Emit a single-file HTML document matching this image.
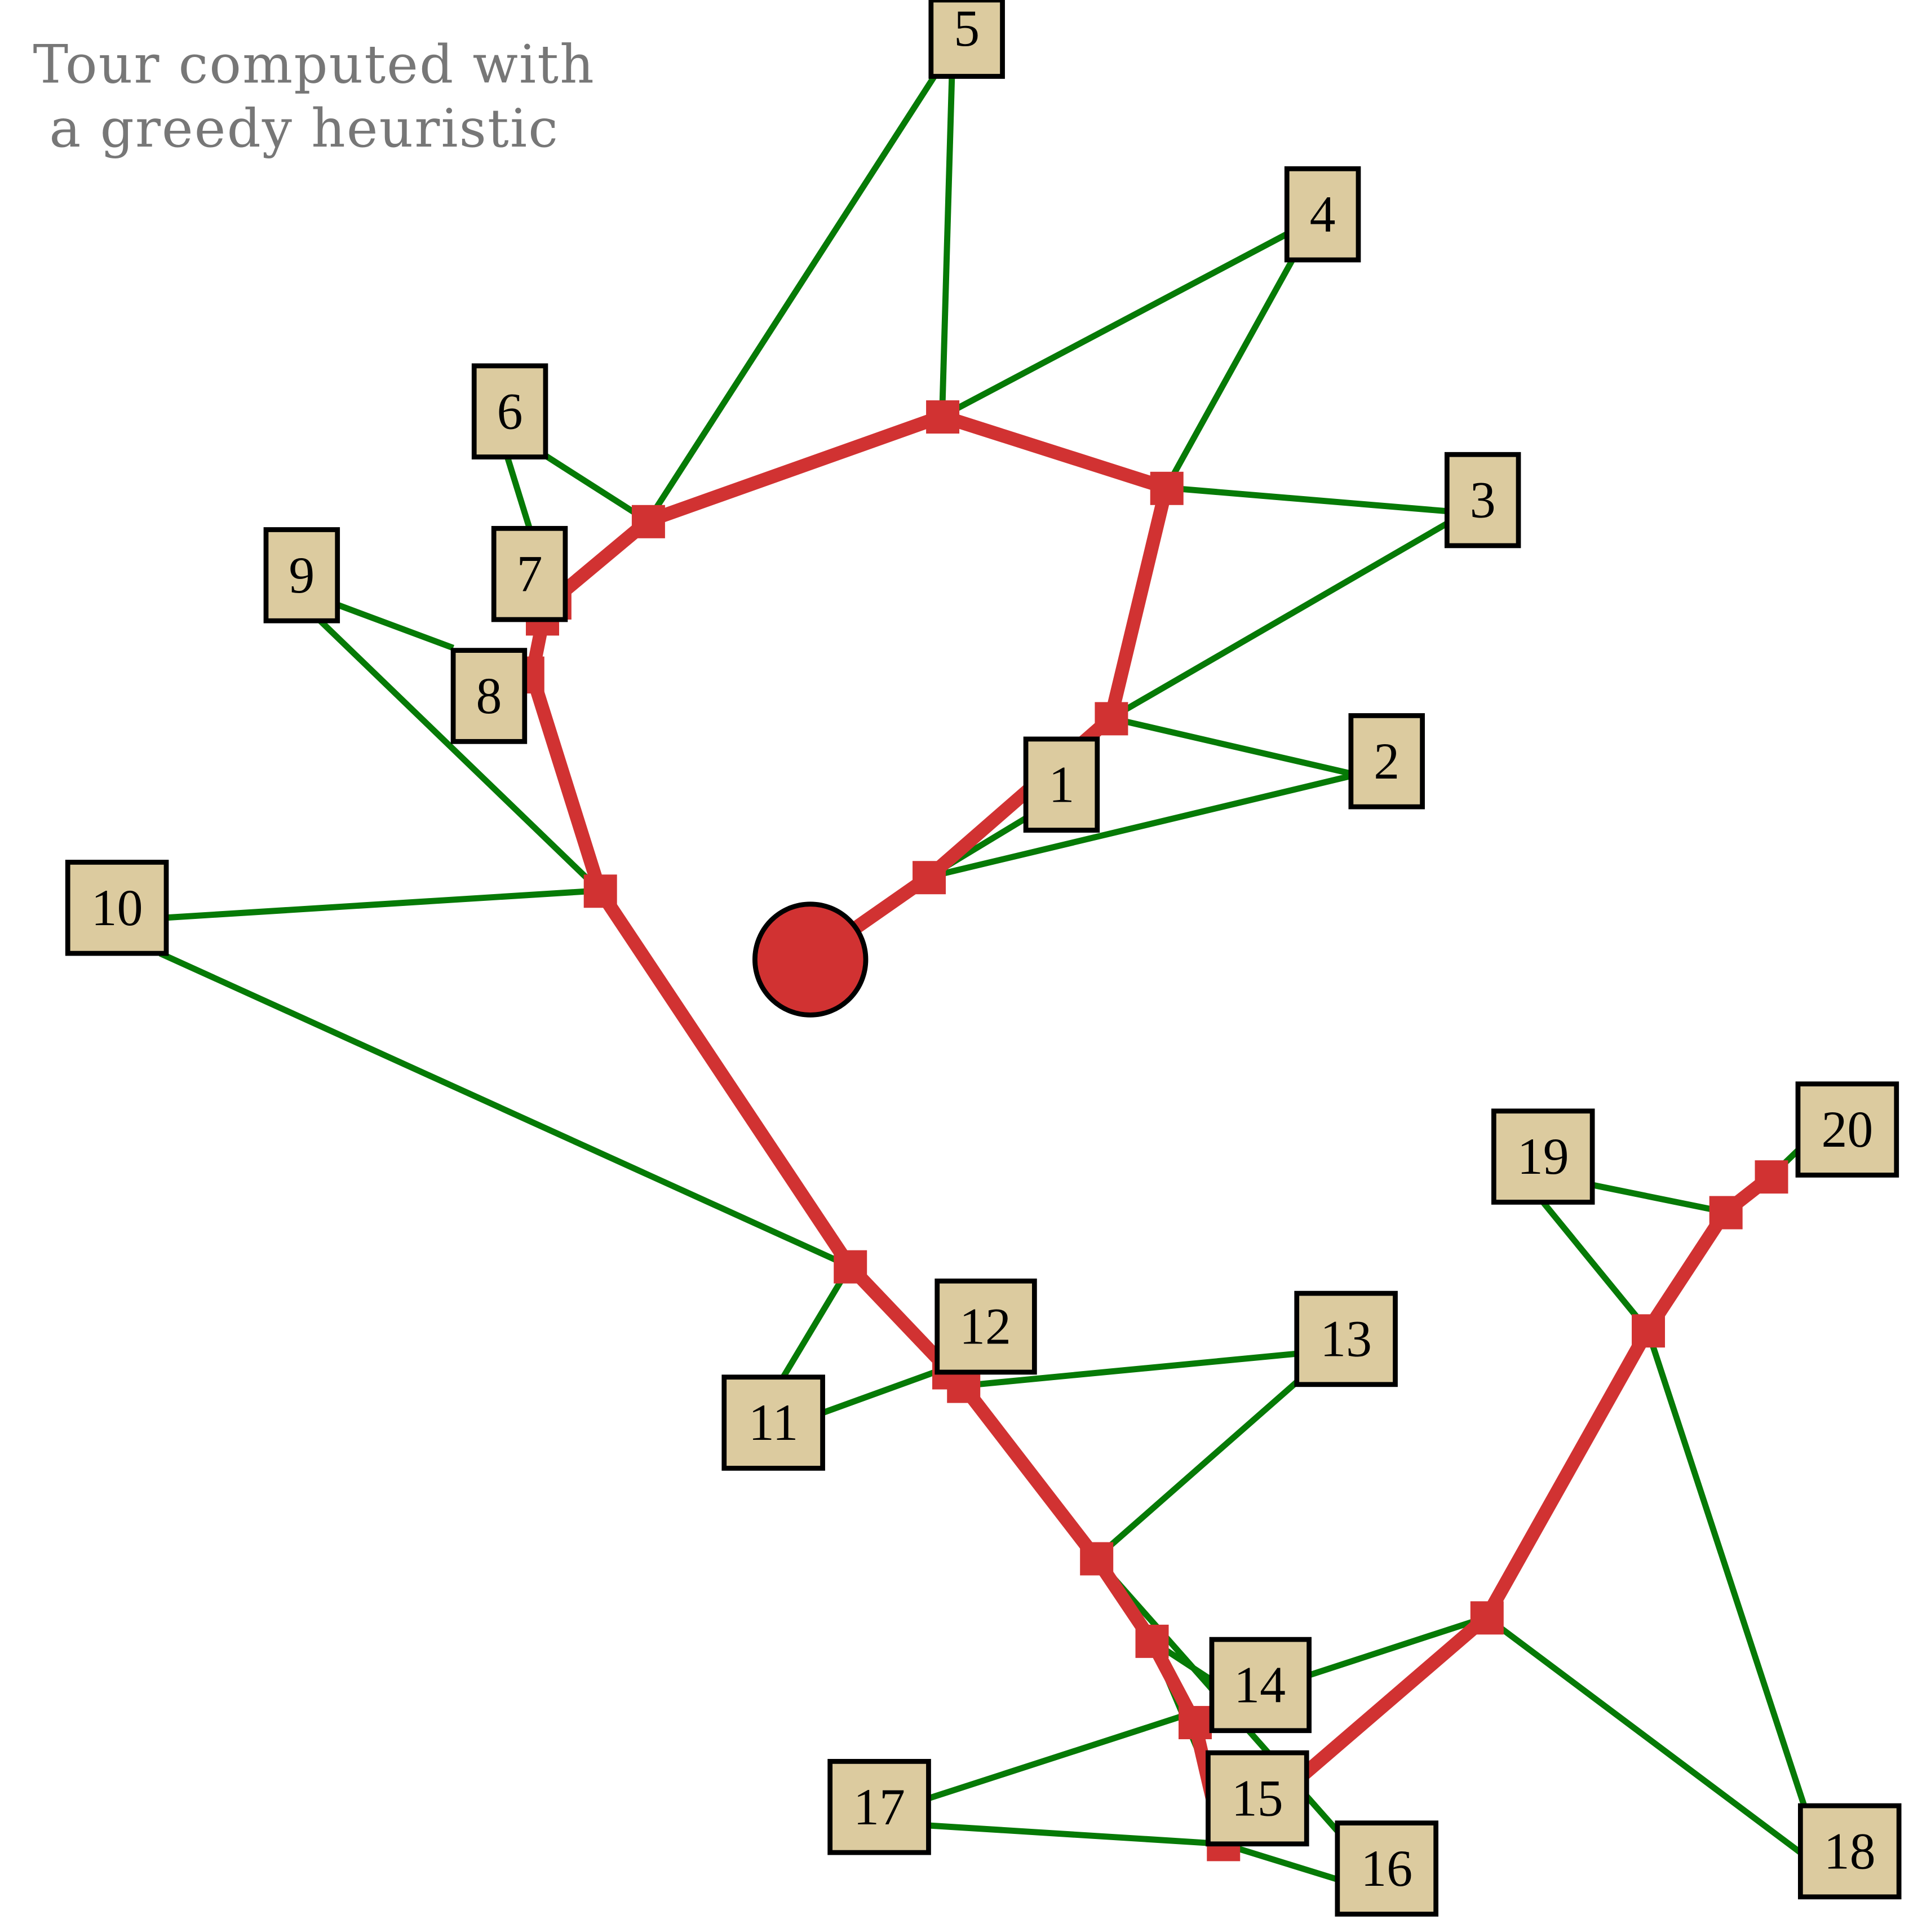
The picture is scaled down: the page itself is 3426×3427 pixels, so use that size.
<!DOCTYPE html>
<html><head><meta charset="utf-8"><style>html,body{margin:0;padding:0;background:#fff}svg{display:block}</style></head>
<body>
<svg width="3426" height="3427" viewBox="0 0 1568 1568.5" xmlns="http://www.w3.org/2000/svg">
<g stroke="#067a06" stroke-width="5" fill="none">
<line x1="754" y1="712" x2="1097" y2="630"/>
<line x1="754" y1="712" x2="840" y2="660"/>
<line x1="902" y1="583" x2="1175" y2="425"/>
<line x1="902" y1="583" x2="1097" y2="628"/>
<line x1="947" y1="396" x2="1175" y2="415"/>
<line x1="947" y1="396" x2="1050" y2="210"/>
<line x1="765" y1="338" x2="773" y2="60"/>
<line x1="765" y1="338" x2="1045" y2="190"/>
<line x1="526" y1="423" x2="760" y2="60"/>
<line x1="526" y1="423" x2="443" y2="370"/>
<line x1="412" y1="371" x2="430" y2="429"/>
<line x1="274" y1="491" x2="368" y2="526"/>
<line x1="260" y1="504" x2="487" y2="723"/>
<line x1="135" y1="745" x2="487" y2="723"/>
<line x1="130" y1="774" x2="690" y2="1028"/>
<line x1="690" y1="1028" x2="636" y2="1118"/>
<line x1="668" y1="1147" x2="770" y2="1110"/>
<line x1="782" y1="1125" x2="1053" y2="1099"/>
<line x1="890" y1="1265" x2="1053" y2="1122"/>
<line x1="890" y1="1265" x2="1098" y2="1500"/>
<line x1="935" y1="1332" x2="990" y2="1368"/>
<line x1="1207" y1="1313" x2="1063" y2="1360"/>
<line x1="1207" y1="1313" x2="1470" y2="1510"/>
<line x1="754" y1="1460" x2="970" y2="1390"/>
<line x1="754" y1="1482" x2="993" y2="1497"/>
<line x1="993" y1="1497" x2="1090" y2="1527"/>
<line x1="935" y1="1332" x2="985" y2="1450"/>
<line x1="1338" y1="1080" x2="1253" y2="976"/>
<line x1="1338" y1="1080" x2="1468" y2="1475"/>
<line x1="1401" y1="984" x2="1293" y2="962"/>
<line x1="1438" y1="955" x2="1462" y2="932"/>
</g>
<polyline fill="none" stroke="#d13232" stroke-width="11" stroke-linejoin="round" points="658,779 754,712 902,583 947,396 765,338 526,423 447,489 440,508 432,548 487,723 690,1028 770,1112 782,1125 890,1265 935,1332 970,1398 993,1497 1207,1313 1338,1080 1401,984 1438,955"/>
<g fill="#d13232">
<rect x="741" y="699" width="27" height="27"/><rect x="889" y="570" width="27" height="27"/><rect x="934" y="383" width="27" height="27"/><rect x="752" y="325" width="27" height="27"/><rect x="513" y="410" width="27" height="27"/><rect x="444" y="476" width="20" height="27"/><rect x="427" y="496" width="27" height="20"/><rect x="426" y="533" width="16" height="30"/><rect x="474" y="710" width="27" height="27"/><rect x="677" y="1015" width="27" height="27"/><rect x="757" y="1101" width="27" height="27"/><rect x="769" y="1112" width="27" height="27"/><rect x="877" y="1252" width="27" height="27"/><rect x="922" y="1319" width="27" height="27"/><rect x="957" y="1385" width="27" height="27"/><rect x="980" y="1484" width="27" height="27"/><rect x="1194" y="1300" width="27" height="27"/><rect x="1325" y="1067" width="27" height="27"/><rect x="1388" y="971" width="27" height="27"/><rect x="1425" y="942" width="27" height="27"/>
</g>
<circle cx="658" cy="779" r="45" fill="#d13232" stroke="#000" stroke-width="4"/>
<g fill="#dccb9f" stroke="#000" stroke-width="4">
<rect x="833" y="600" width="58" height="74"/><rect x="1097" y="581" width="58" height="74"/><rect x="1175" y="369" width="58" height="74"/><rect x="1045" y="137" width="58" height="74"/><rect x="756" y="0" width="58" height="62"/><rect x="385" y="297" width="58" height="74"/><rect x="401" y="429" width="58" height="74"/><rect x="368" y="528" width="58" height="74"/><rect x="216" y="430" width="58" height="74"/><rect x="55" y="700" width="80" height="74"/><rect x="588" y="1118" width="80" height="74"/><rect x="761" y="1040" width="79" height="74"/><rect x="1053" y="1050" width="80" height="74"/><rect x="984" y="1331" width="79" height="74"/><rect x="981" y="1423" width="80" height="74"/><rect x="1086" y="1480" width="80" height="74"/><rect x="674" y="1430" width="80" height="74"/><rect x="1462" y="1466" width="80" height="74"/><rect x="1213" y="902" width="80" height="74"/><rect x="1460" y="880" width="80" height="74"/>
</g>
<g font-family="Liberation Serif, serif" font-size="42" text-anchor="middle" fill="#000">
<text x="862" y="651">1</text><text x="1126" y="632">2</text><text x="1204" y="420">3</text><text x="1074" y="188">4</text><text x="785" y="37">5</text><text x="414" y="348">6</text><text x="430" y="480">7</text><text x="397" y="579">8</text><text x="245" y="481">9</text><text x="95" y="751">10</text><text x="628" y="1169">11</text><text x="800" y="1091">12</text><text x="1093" y="1101">13</text><text x="1023" y="1382">14</text><text x="1021" y="1474">15</text><text x="1126" y="1531">16</text><text x="714" y="1481">17</text><text x="1502" y="1517">18</text><text x="1253" y="953">19</text><text x="1500" y="931">20</text>
</g>
<g font-family="DejaVu Serif, serif" font-size="43" letter-spacing="1" text-anchor="middle" fill="#777">
<text x="255" y="67">Tour computed with</text><text x="247" y="119">a greedy heuristic</text>
</g>
</svg>
</body></html>
